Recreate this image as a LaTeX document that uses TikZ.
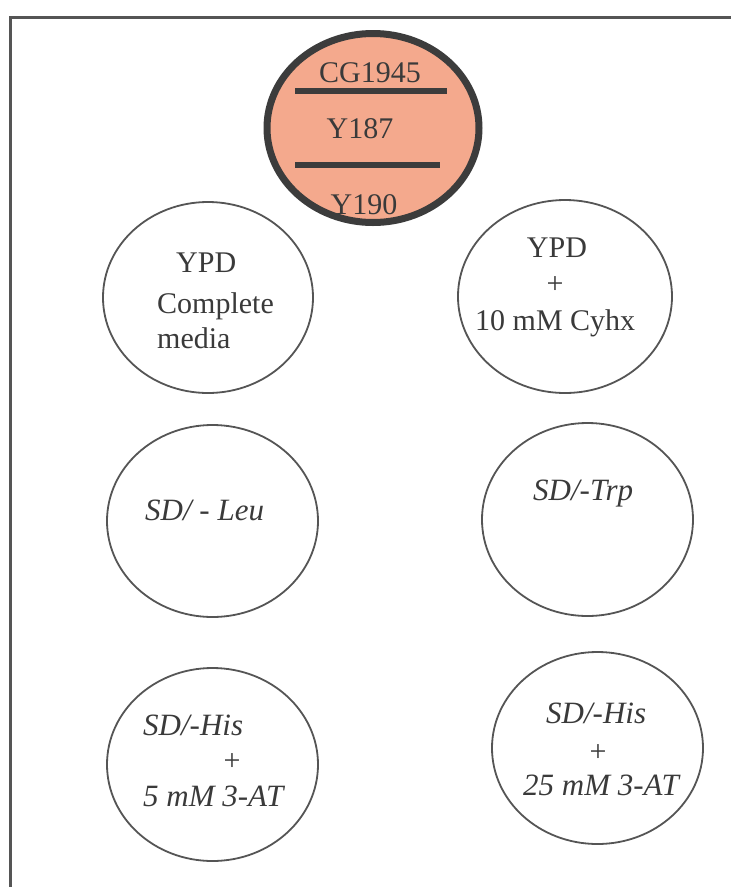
\documentclass[tikz,border=0pt]{standalone}
\usepackage{fontspec}
\setmainfont{Liberation Serif}
\usetikzlibrary{shapes.geometric}
\definecolor{plateline}{HTML}{555555}
\definecolor{agar}{HTML}{F4A98D}
\definecolor{rimdark}{HTML}{3C3C3C}
\definecolor{ink}{HTML}{3A3A3A}
\tikzset{
  plate/.style={ellipse, draw=plateline, line width=1.8pt, inner sep=0pt,
                minimum width=211pt, minimum height=193pt},
  txt/.style={text=ink, font=\fontsize{30}{36}\selectfont, inner sep=0pt},
  itxt/.style={txt, font=\fontsize{31}{37}\selectfont\itshape},
}
\begin{document}
\begin{tikzpicture}[x=1pt, y=-1pt]
\useasboundingbox (0,0) rectangle (731,887);
\fill[white] (0,0) rectangle (731,887);
% outer frame, running off the right and bottom edges
\draw[plateline, line width=3pt] (10,890) -- (10,17) -- (734,17);

% master plate with its three strains
\node[ellipse, fill=agar, inner sep=0pt,
      minimum width=212pt, minimum height=189pt] (master) at (373,128) {};
\draw[rimdark, line width=6pt] (295,91) -- (447,91);
\draw[rimdark, line width=6pt] (295,165) -- (440,165);
\node[txt, anchor=base] (cg) at (370,82) {CG1945};
\node[txt, anchor=base] (y187) at (360,138) {Y187};
\node[txt, anchor=base] (y190) at (364,214) {Y190};
\draw[rimdark, line width=7pt] (master.center) ellipse [x radius=106, y radius=94.5];

% selection plates
\node[plate, minimum width=210pt, minimum height=191pt] (ypd) at (208,297.5) {};
\node[txt, anchor=base west] (ypd1) at (176,272) {YPD};
\node[txt, anchor=base west] (ypd2) at (157,313) {Complete};
\node[txt, anchor=base west] (ypd3) at (157,348) {media};

\node[plate, minimum width=214pt] (cyhx) at (565,296.5) {};
\node[txt, anchor=base] (cyhx1) at (557,257) {YPD};
\node[txt, anchor=center] (cyhx2) at (555,285) {+};
\node[txt, anchor=base west] (cyhx3) at (475,330) {10 mM Cyhx};

\node[plate, minimum height=192pt] (leu) at (212.5,521) {};
\node[itxt, anchor=base west] (leu1) at (145,520) {SD/ - Leu};

\node[plate] (trp) at (587.5,519.5) {};
\node[itxt, anchor=base west] (trp1) at (533,500) {SD/-Trp};

\node[plate] (his5) at (212.5,764.5) {};
\node[itxt, anchor=base west] (his51) at (143,735) {SD/-His};
\node[txt, anchor=center] (his52) at (232,762) {+};
\node[itxt, anchor=base west] (his53) at (143,806) {5 mM 3-AT};

\node[plate, minimum height=192pt] (his25) at (597.5,748) {};
\node[itxt, anchor=base west] (his251) at (546,723) {SD/-His};
\node[txt, anchor=center] (his252) at (598,753) {+};
\node[itxt, anchor=base west] (his253) at (523,795) {25 mM 3-AT};
\end{tikzpicture}
\end{document}
